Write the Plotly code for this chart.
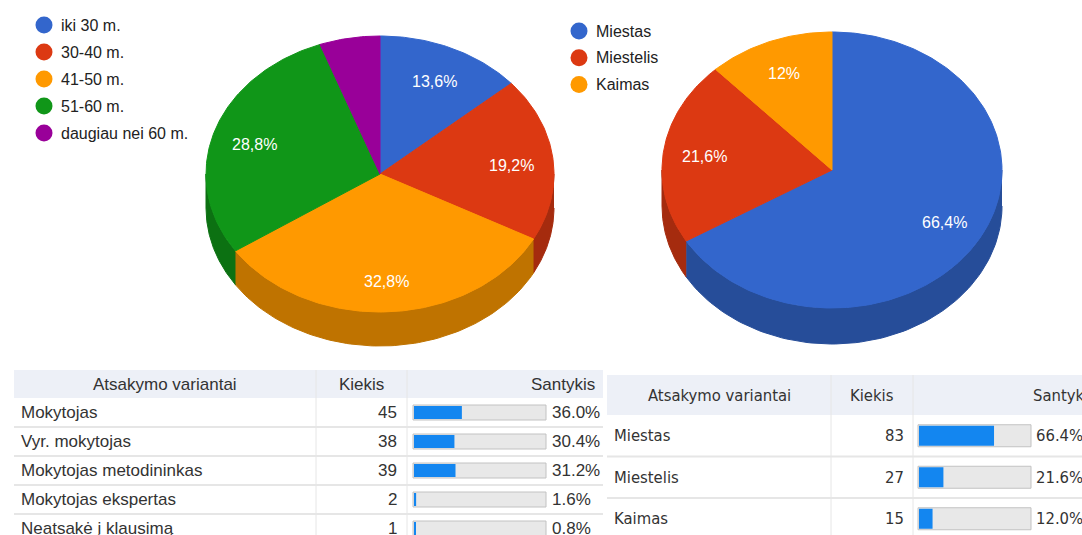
import numpy as np
import plotly.graph_objects as go

# ---------------- data ----------------
age_labels = ["iki 30 m.", "30-40 m.", "41-50 m.", "51-60 m.", "daugiau nei 60 m."]
age_pct = [13.6, 19.2, 32.8, 28.8, 5.6]
age_colors = ["#3366cc", "#dc3912", "#ff9900", "#109618", "#990099"]
age_side = ["#264d99", "#a52b0e", "#bf7300", "#0c7112", "#730073"]

place_labels = ["Miestas", "Miestelis", "Kaimas"]
place_pct = [66.4, 21.6, 12.0]
place_counts = [83, 27, 15]
place_colors = ["#3366cc", "#dc3912", "#ff9900"]
place_side = ["#264d99", "#a52b0e", "#bf7300"]

role_labels = ["Mokytojas", "Vyr. mokytojas", "Mokytojas metodininkas",
               "Mokytojas ekspertas", "Neatsakė į klausimą"]
role_counts = [45, 38, 39, 2, 1]
role_pct = [36.0, 30.4, 31.2, 1.6, 0.8]

header_labels = ["Atsakymo variantai", "Kiekis", "Santykis"]

# ---------------- figure ----------------
W, H = 1082, 535
fig = go.Figure()
ann = []
shapes = []
TXT = "#333333"


def pie3d(values, colors, sides, cx, cy, rx, ry, depth, lab_r=0.76, min_lab=6, lab_dy=0):
    total = float(sum(values))
    cum = np.concatenate([[0], np.cumsum(values)]) / total * 360.0
    # side walls (front half only)
    for i in range(len(values)):
        lo, hi = max(cum[i], 90.0), min(cum[i + 1], 270.0)
        if lo < hi:
            t = np.radians(np.linspace(lo, hi, 90))
            xs = cx + rx * np.sin(t)
            ys = cy - ry * np.cos(t)
            X = np.concatenate([xs, xs[::-1]])
            Y = np.concatenate([ys, ys[::-1] + depth])
            fig.add_trace(go.Scatter(x=X, y=Y, mode="lines", fill="toself",
                                     fillcolor=sides[i],
                                     line=dict(color=sides[i], width=1),
                                     hoverinfo="skip"))
    # top slices
    for i in range(len(values)):
        a, b = cum[i], cum[i + 1]
        t = np.radians(np.linspace(a, b, max(int(b - a), 2) + 1))
        X = np.concatenate([[cx], cx + rx * np.sin(t), [cx]])
        Y = np.concatenate([[cy], cy - ry * np.cos(t), [cy]])
        fig.add_trace(go.Scatter(x=X, y=Y, mode="lines", fill="toself",
                                 fillcolor=colors[i],
                                 line=dict(color=colors[i], width=1),
                                 hoverinfo="skip"))
        if values[i] >= min_lab:
            m = np.radians((a + b) / 2)
            txt = f"{values[i]:g}".replace(".", ",") + "%"
            ann.append(dict(x=cx + lab_r * rx * np.sin(m),
                            y=cy - lab_r * ry * np.cos(m) + lab_dy,
                            text=txt, showarrow=False,
                            font=dict(color="white", size=16,
                                      family="Liberation Sans, Arial")))


def legend(labels, colors, x, y0, dy):
    ys = [y0 + k * dy for k in range(len(labels))]
    fig.add_trace(go.Scatter(x=[x] * len(labels), y=ys, mode="markers",
                             marker=dict(size=17, color=colors),
                             hoverinfo="skip"))
    for lab, yy in zip(labels, ys):
        ann.append(dict(x=x + 15, y=yy, text=lab, showarrow=False,
                        xanchor="left", yanchor="middle",
                        font=dict(color="#222222", size=16,
                                  family="Liberation Sans, Arial")))


def table(labels, counts, pcts, x0, c1, c2, x3, hy0, hy1, rh, font, fsize,
          bx0, bw, bh, lab_dx, num_dx, pct_dx, head_x, head_anchor):
    n = len(labels)
    shapes.append(dict(type="rect", x0=x0, x1=x3, y0=hy0, y1=hy1,
                       fillcolor="#edf0f7", line=dict(width=0), layer="below"))
    for xc in (c1, c2):
        shapes.append(dict(type="line", x0=xc, x1=xc, y0=hy0, y1=H + 5,
                           line=dict(color="#e6e6e6", width=1), layer="below"))
    for k in range(1, n + 1):
        yy = hy1 + k * rh
        shapes.append(dict(type="line", x0=x0, x1=x3, y0=yy, y1=yy,
                           line=dict(color="#e6e6e6", width=2), layer="below"))
    f = dict(color=TXT, size=fsize, family=font)
    hc = (hy0 + hy1) / 2
    ann.append(dict(x=(x0 + c1) / 2, y=hc, text=header_labels[0], showarrow=False,
                    xanchor="center", yanchor="middle", font=f))
    ann.append(dict(x=(c1 + c2) / 2, y=hc, text=header_labels[1], showarrow=False,
                    xanchor="center", yanchor="middle", font=f))
    ann.append(dict(x=head_x, y=hc, text=header_labels[2], showarrow=False,
                    xanchor=head_anchor, yanchor="middle", font=f))
    centers = [hy1 + rh * (k + 0.5) for k in range(n)]
    for lab, cnt, p, yc in zip(labels, counts, pcts, centers):
        ann.append(dict(x=x0 + lab_dx, y=yc, text=lab, showarrow=False,
                        xanchor="left", yanchor="middle", font=f))
        ann.append(dict(x=c2 - num_dx, y=yc, text=str(cnt), showarrow=False,
                        xanchor="right", yanchor="middle", font=f))
        ann.append(dict(x=bx0 + bw + pct_dx, y=yc, text=f"{p:.1f}%", showarrow=False,
                        xanchor="left", yanchor="middle", font=f))
    fig.add_trace(go.Bar(orientation="h", y=centers, x=[bw] * n, base=bx0,
                         width=bh, marker=dict(color="#e8e8e8",
                                               line=dict(color="#c2c2c2", width=1)),
                         hoverinfo="skip"))
    fig.add_trace(go.Bar(orientation="h", y=centers, x=[p / 100 * bw for p in pcts],
                         base=bx0 + 1, width=bh - 2,
                         marker=dict(color="#1386f0", line=dict(width=0)),
                         hoverinfo="skip"))


pie3d(age_pct, age_colors, age_side, 380, 174, 174, 138, 34, lab_dy=3)
pie3d(place_pct, place_colors, place_side, 832, 170, 170, 138, 36, lab_dy=1)
legend(age_labels, age_colors, 44, 25, 27)
legend(place_labels, place_colors, 579, 31, 26.7)

table(role_labels, role_counts, role_pct, 14, 316, 407, 603, 370, 398, 29,
      "Liberation Sans, Arial", 17, 413, 133, 15, 5, 8, 4, 597, "right")
table(place_labels, place_counts, place_pct, 607, 831, 913, 1090, 375, 415, 41.5,
      "Liberation Sans Narrow, DejaVu Sans Condensed, Arial Narrow, Liberation Sans, Arial",
      16.5, 918, 113, 22, 5, 7, 3, 1031, "left")

fig.update_layout(
    width=W, height=H, margin=dict(l=0, r=0, t=0, b=0),
    paper_bgcolor="white", plot_bgcolor="white",
    showlegend=False, hovermode=False, barmode="overlay",
    xaxis=dict(range=[0, W], visible=False, fixedrange=True),
    yaxis=dict(range=[H, 0], visible=False, fixedrange=True),
    annotations=ann, shapes=shapes,
)
fig.write_html("out.html", config={"displayModeBar": False},
               post_script="document.body.style.margin='0px';"
                           "document.body.style.overflow='hidden';")
